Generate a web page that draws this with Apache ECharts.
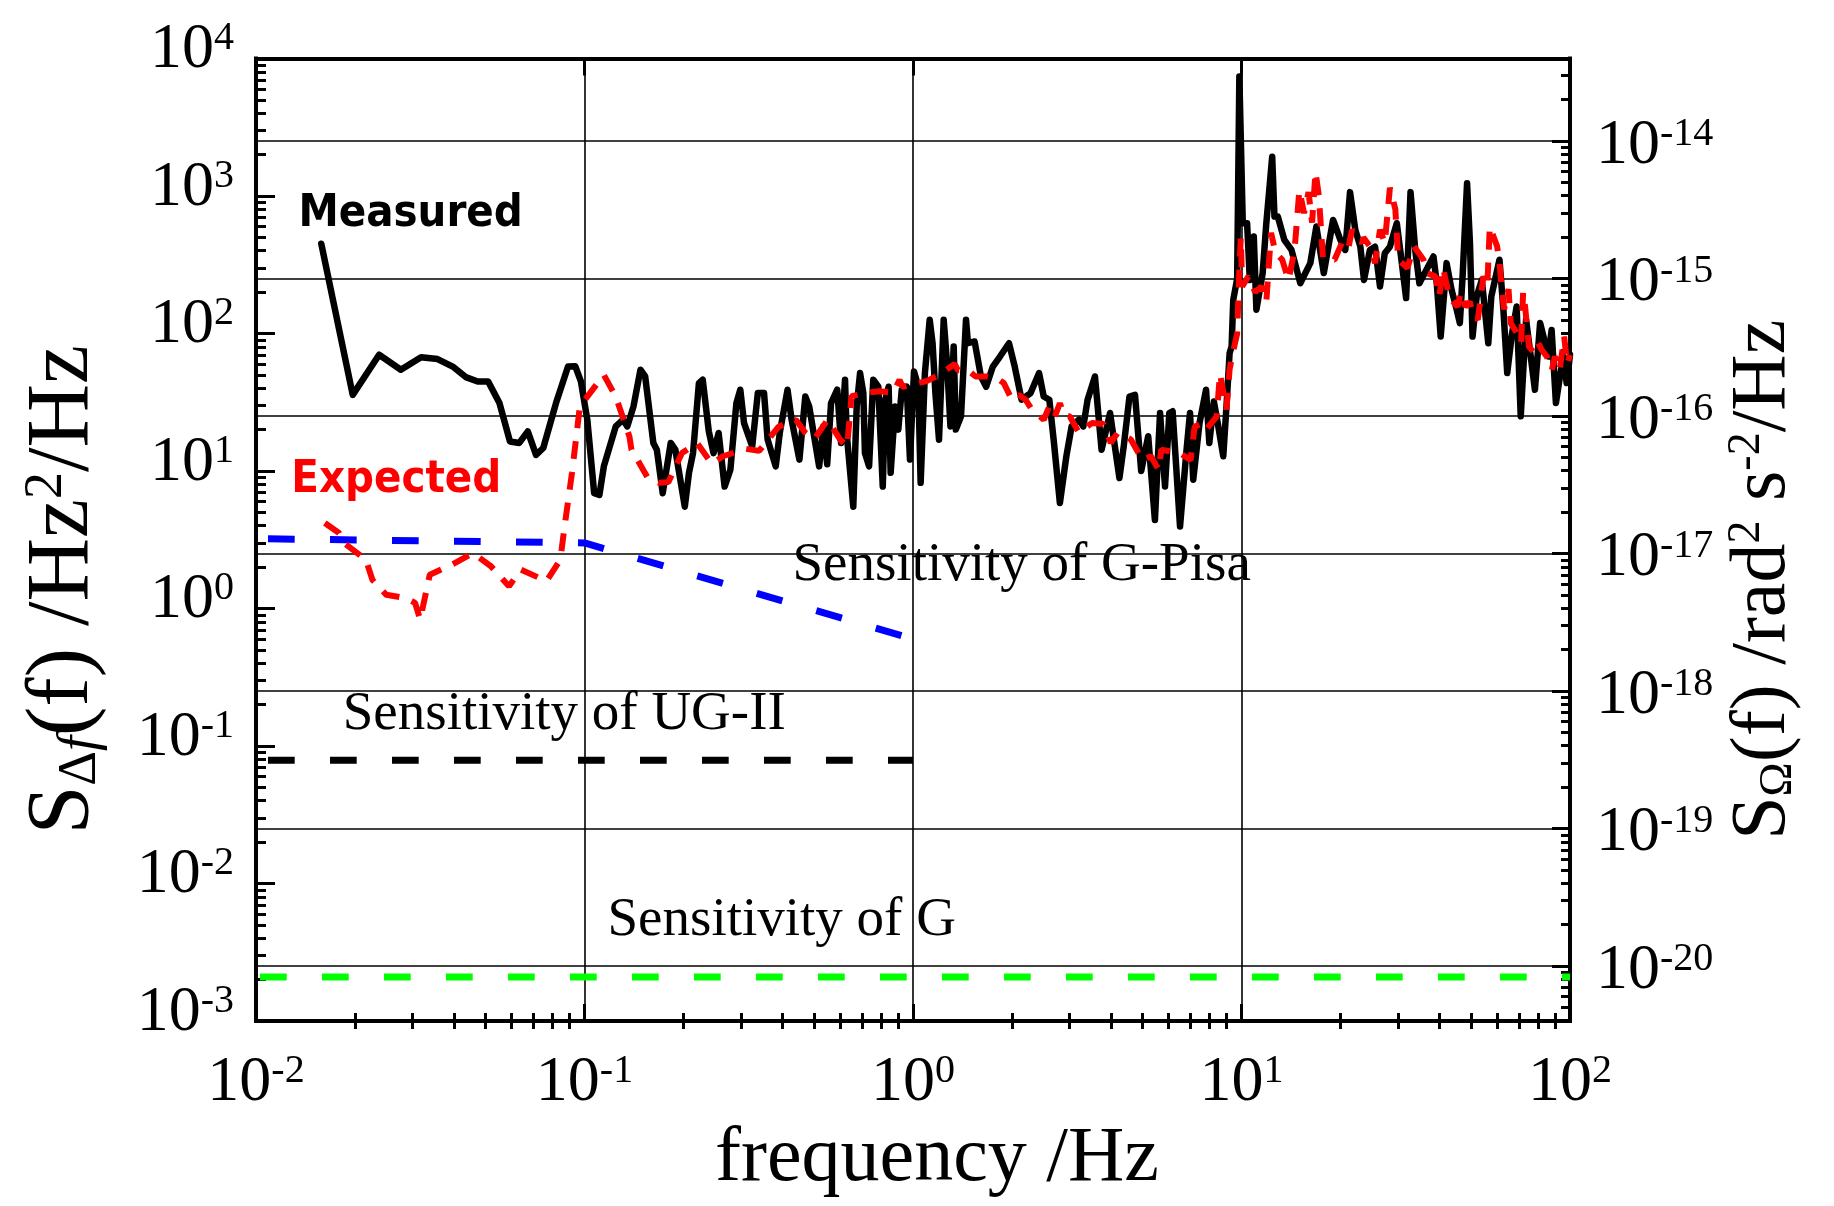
<!DOCTYPE html>
<html>
<head>
<meta charset="utf-8">
<script src="https://cdn.jsdelivr.net/npm/echarts@6/dist/echarts.min.js"></script>
<style>
  html, body { margin: 0; padding: 0; background: #ffffff; }
  #chart { width: 1834px; height: 1206px; }
</style>
</head>
<body>
<div id="chart"></div>
<script>
// Frequency-shift noise spectra: [frequency (Hz), S_Δf (Hz^2/Hz)]
const measured = [
  [0.0158, 450], [0.0197, 35.8], [0.0237, 70], [0.0276, 54.5], [0.0318, 67.3],
  [0.0357, 65.2], [0.0397, 57.5], [0.0435, 48.2], [0.0473, 44.8], [0.0509, 44.8],
  [0.0551, 31.2], [0.0593, 16.4], [0.0633, 16.0], [0.0672, 19.4], [0.0712, 13.1],
  [0.0749, 14.7], [0.0819, 31.2], [0.0891, 57.5], [0.0937, 57.9], [0.0975, 44.8],
  [0.102, 23.6], [0.107, 6.9], [0.111, 6.7], [0.1145, 10.8], [0.1245, 21.1],
  [0.131, 23.6], [0.135, 21.1], [0.141, 29.5], [0.148, 54.5], [0.153, 48.7],
  [0.162, 16], [0.166, 14.3], [0.173, 6.9], [0.183, 16], [0.189, 14.3],
  [0.202, 5.5], [0.208, 9.7], [0.214, 13.5], [0.223, 43.6], [0.229, 46.1],
  [0.239, 19.4], [0.247, 13.5], [0.256, 18.9], [0.267, 7.7], [0.278, 10.2],
  [0.29, 31.2], [0.298, 39], [0.306, 22.3], [0.324, 15.1], [0.337, 36.9],
  [0.352, 36.9], [0.361, 16.9], [0.382, 10.8], [0.393, 18.9], [0.415, 39],
  [0.427, 23.6], [0.451, 12.1], [0.47, 34.8], [0.483, 29.5], [0.518, 10.8],
  [0.533, 21.1], [0.548, 11.2], [0.563, 31.2], [0.588, 39], [0.604, 16],
  [0.621, 46.1], [0.628, 18.9], [0.658, 5.5], [0.674, 29.5], [0.69, 51.6],
  [0.706, 36.9], [0.714, 13.5], [0.735, 10.8], [0.757, 46.1], [0.784, 41],
  [0.809, 7.7], [0.823, 33], [0.843, 41], [0.855, 9.7], [0.882, 29.5],
  [0.902, 20], [0.924, 39], [0.957, 41], [0.979, 12.1], [1.007, 53],
  [1.038, 41], [1.055, 8.2], [1.087, 51.6], [1.124, 126], [1.147, 85],
  [1.17, 36.9], [1.2, 16.9], [1.24, 126], [1.27, 60], [1.3, 21.1],
  [1.33, 80.5], [1.35, 20], [1.4, 25], [1.45, 126], [1.47, 85],
  [1.54, 87.5], [1.61, 48.7], [1.67, 41], [1.75, 57.5], [1.84, 68],
  [1.96, 85], [2.04, 57.5], [2.14, 33], [2.28, 36.9], [2.42, 51.6],
  [2.5, 34.8], [2.6, 33], [2.68, 16.9], [2.8, 5.85], [2.93, 12.8],
  [3.04, 21.1], [3.2, 23.6], [3.3, 21.1], [3.4, 33], [3.58, 48.7],
  [3.75, 14.3], [3.98, 26.4], [4.25, 8.9], [4.38, 15.1], [4.56, 34.8],
  [4.74, 35.8], [4.95, 10], [5.2, 17.9], [5.45, 4.4], [5.65, 26.4],
  [5.85, 7.7], [6.03, 26.4], [6.17, 27.2], [6.5, 3.95], [6.79, 13.5],
  [6.97, 26.4], [7.13, 8.65], [7.45, 22.3], [7.8, 39], [7.98, 16],
  [8.24, 32], [8.5, 21.1], [8.8, 12.8], [9.0, 29.5], [9.2, 72],
  [9.33, 80.5], [9.44, 176], [9.7, 250], [9.85, 7400], [10.09, 634],
  [10.4, 634], [10.6, 245], [10.9, 507], [11.1, 149], [11.25, 149],
  [11.6, 275], [11.9, 634], [12.4, 1930], [12.6, 708], [12.9, 708],
  [13.5, 480], [14.2, 405], [15.1, 232], [16.2, 325], [16.9, 600],
  [17.8, 275], [19.0, 670], [20.0, 480], [20.7, 405], [21.4, 1067],
  [22.2, 568], [23.0, 428], [23.6, 245], [24.6, 405], [25.5, 428],
  [26.4, 220], [27.3, 384], [28.3, 428], [29.7, 634], [30.5, 384],
  [31.7, 181], [32.7, 1067], [33.8, 405], [34.8, 232], [37.0, 307],
  [38.4, 363], [39.3, 232], [40.4, 95], [42.1, 325], [43.6, 208],
  [45.2, 149], [46.2, 119], [47.1, 260], [48.6, 1240], [49.6, 454],
  [50.5, 95], [52.0, 186], [53.9, 245], [56.4, 85], [57.6, 186],
  [61.0, 344], [62.7, 149], [64.4, 51.6], [66.4, 95], [68.8, 157],
  [70.8, 25], [73.5, 126], [75.5, 76], [78.2, 39], [81.1, 119],
  [86.0, 68], [87.9, 106], [90.6, 31.2], [93.2, 48.7], [95.4, 68],
  [97.7, 43.6], [100, 70]
];

const expected = [
  [0.0162, 4.19], [0.0179, 3.54], [0.0185, 3.0], [0.0216, 2.27], [0.0226, 1.62],
  [0.0249, 1.26], [0.0286, 1.19], [0.0305, 1.1], [0.0316, 0.83], [0.0338, 1.76],
  [0.0394, 2.08], [0.0458, 2.53], [0.0519, 2.03], [0.0589, 1.45], [0.064, 1.92],
  [0.0766, 1.58], [0.0844, 2.26], [0.0867, 3.74], [0.0916, 9.7], [0.0968, 29.5],
  [0.1145, 50], [0.1245, 34.8], [0.137, 17.8], [0.139, 14.3], [0.157, 8.65],
  [0.169, 8.2], [0.18, 8.3], [0.198, 13.5], [0.22, 16], [0.244, 11.3],
  [0.264, 12.8], [0.31, 14.5], [0.34, 14], [0.39, 21], [0.44, 23.6],
  [0.47, 19], [0.5, 17], [0.55, 23.6], [0.6, 16.9], [0.63, 15],
  [0.65, 35], [0.72, 37], [0.79, 38], [0.87, 37], [0.91, 46],
  [0.93, 41], [1.1, 45], [1.2, 50], [1.34, 60], [1.37, 54],
  [1.47, 54], [1.55, 48.7], [1.67, 48.7], [1.83, 46], [1.89, 43.6],
  [2.0, 33], [2.1, 35.8], [2.2, 33], [2.3, 28], [2.5, 23.6],
  [2.6, 29.5], [2.7, 24.9], [2.8, 31], [2.9, 25], [3.0, 25],
  [3.2, 19], [3.5, 22.3], [3.8, 22], [4.0, 16], [4.2, 19],
  [4.6, 17], [5.0, 12], [5.3, 12.8], [5.6, 10.2], [5.7, 14.3],
  [6.5, 13.5], [7.0, 12], [7.2, 21], [7.6, 22.3], [7.8, 20],
  [8.4, 24.9], [8.6, 51], [9.0, 28], [9.2, 55], [9.5, 80],
  [9.7, 100], [9.85, 290], [9.95, 500], [10.05, 220], [10.5, 260],
  [11.0, 200], [11.5, 220], [11.9, 170], [12.3, 540], [12.7, 384],
  [13.3, 344], [13.9, 245], [14.5, 400], [15.0, 1100], [15.5, 750],
  [16.0, 1067], [16.4, 640], [16.8, 1500], [17.2, 1000], [17.7, 350],
  [19.2, 344], [20.4, 480], [21.2, 430], [21.7, 568], [23.3, 454],
  [23.5, 500], [24.6, 430], [25.5, 325], [26.4, 568], [27.3, 454],
  [28.3, 1150], [29.4, 800], [30.0, 344], [32.0, 300], [33.5, 430],
  [35.8, 344], [36.7, 275], [39.0, 260], [40.0, 186], [41.1, 300],
  [41.8, 245], [43.1, 180], [45.5, 157], [46.5, 200], [48.0, 157],
  [49.6, 170], [50.5, 140], [52.4, 126], [54.5, 260], [56.0, 220],
  [57.0, 600], [60.0, 430], [61.0, 325], [62.0, 210], [63.0, 150],
  [65.0, 210], [66.0, 119], [68.0, 106], [71.0, 85], [72.0, 200],
  [73.0, 157], [75.0, 80], [78.0, 72], [80.0, 85], [82.0, 76],
  [85.0, 68], [88.0, 54], [90.0, 68], [93.0, 54], [96.0, 95],
  [98.0, 60], [100, 70]
];

// Instrument sensitivity levels
const sensGPisa = [[0.01, 3.22], [0.1, 3.0], [1, 0.6]];
const sensUGII = [[0.01, 0.0789], [1, 0.0789]];
const sensG = [[0.01, 0.00209], [100, 0.00209]];

// Curve labels: text and anchor (left edge, vertical middle) in data units
const labelTexts = ['Measured', 'Expected', 'Sensitivity of G-Pisa', 'Sensitivity of UG-II', 'Sensitivity of G'];
const labelAnchors = [[0.01346, 735], [0.0128, 8.53], [0.4296, 2.04], [0.01837, 0.1695], [0.1175, 0.0054]];

// Axis tick positions
const freqDecades = [0.01, 0.1, 1, 10, 100];
const leftDecades = [1e-3, 1e-2, 1e-1, 1, 10, 100, 1000, 10000];
const rightDecades = [1e-20, 1e-19, 1e-18, 1e-17, 1e-16, 1e-15, 1e-14];

// Right axis: S_Ω = S_Δf * 10^OMEGA_SHIFT
const OMEGA_SHIFT = -17.4;
const LEFT_MIN = 1e-3, LEFT_MAX = 1e4;

function minorTicks(kLo, kHi, lo, hi) {
  const out = [];
  for (let k = kLo; k <= kHi; k++) {
    for (let m = 2; m <= 9; m++) {
      const v = m * Math.pow(10, k);
      if (v > lo && v < hi) out.push(v);
    }
  }
  return out;
}

const SERIF = '"Liberation Serif", "Times New Roman", serif';
const SANS = '"DejaVu Sans Condensed", "DejaVu Sans", sans-serif';

const rightMin = LEFT_MIN * Math.pow(10, OMEGA_SHIFT);
const rightMax = LEFT_MAX * Math.pow(10, OMEGA_SHIFT);

const freqMinor = minorTicks(-2, 1, 0.01, 100);
const leftMinor = minorTicks(-3, 3, LEFT_MIN, LEFT_MAX);
const rightMinor = minorTicks(-21, -14, rightMin, rightMax);

function powLabel(v) {
  const e = Math.round(Math.log10(v));
  return '{b|10}{s|' + e + '}';
}

const tickRich = {
  b: { fontFamily: SERIF, fontSize: 64, lineHeight: 64, color: '#000' },
  s: { fontFamily: SERIF, fontSize: 40, lineHeight: 10, verticalAlign: 'top', color: '#000' }
};

const FRAME_W = 4;
const tickStyle = { color: '#000', width: 3 };

function frameAxis(base, opts) {
  return Object.assign({
    axisLine: { show: true, onZero: false, lineStyle: { color: '#000', width: FRAME_W, cap: 'square' } },
    axisLabel: { show: false },
    splitLine: { show: false },
    minorTick: { show: false },
    minorSplitLine: { show: false }
  }, base, opts);
}

function tickOnlyAxis(base, values, len) {
  return Object.assign({}, base, {
    axisLine: { show: false },
    axisTick: { show: true, inside: true, length: len, lineStyle: tickStyle, customValues: values },
    axisLabel: { show: false },
    splitLine: { show: false }
  });
}

const xBase = { type: 'log', logBase: 10, min: 0.01, max: 100, gridIndex: 0 };
const yLeftBase = { type: 'log', logBase: 10, min: LEFT_MIN, max: LEFT_MAX, gridIndex: 0 };
const yRightBase = { type: 'log', logBase: 10, min: rightMin, max: rightMax, gridIndex: 0 };

const chart = echarts.init(document.getElementById('chart'), null, { renderer: 'canvas' });

const option = {
  animation: false,
  backgroundColor: '#ffffff',
  grid: { left: 256, right: 264, top: 58.5, bottom: 185, containLabel: false, outerBoundsMode: 'none' },
  xAxis: [
    frameAxis(xBase, {
      position: 'bottom',
      name: 'frequency /Hz',
      nameLocation: 'middle',
      nameGap: 100,
      nameTextStyle: { fontFamily: SERIF, fontSize: 78, color: '#000', lineHeight: 78, padding: [0, 0, 0, 48] },
      axisTick: { show: true, inside: true, length: 17, lineStyle: tickStyle, customValues: freqDecades },
      axisLabel: { show: true, customValues: freqDecades, formatter: powLabel, rich: tickRich, margin: 30 },
      splitLine: { show: true, lineStyle: { color: '#000', width: 1.6 } }
    }),
    tickOnlyAxis(Object.assign({ position: 'bottom' }, xBase), freqMinor, 8),
    frameAxis(xBase, {
      position: 'top',
      axisTick: { show: true, inside: true, length: 17, lineStyle: tickStyle, customValues: freqDecades }
    }),
    tickOnlyAxis(Object.assign({ position: 'top' }, xBase), freqMinor, 8)
  ],
  yAxis: [
    frameAxis(yLeftBase, {
      position: 'left',
      name: '{m|S}{sub|Δ}{subi|f}{m|(f) /Hz}{sup|2}{m|/Hz}',
      nameLocation: 'middle',
      nameGap: 148,
      nameTextStyle: {
        color: '#000',
        padding: [0, 100, 0, 0],
        rich: {
          m: { fontFamily: SERIF, fontSize: 88, lineHeight: 88, color: '#000' },
          sub: { fontFamily: SERIF, fontSize: 54, lineHeight: 26, verticalAlign: 'bottom', color: '#000' },
          subi: { fontFamily: SERIF, fontSize: 54, fontStyle: 'italic', lineHeight: 26, verticalAlign: 'bottom', color: '#000' },
          sup: { fontFamily: SERIF, fontSize: 54, lineHeight: 16, verticalAlign: 'top', color: '#000' }
        }
      },
      axisTick: { show: true, inside: true, length: 19, lineStyle: tickStyle, customValues: leftDecades },
      axisLabel: { show: true, customValues: leftDecades, formatter: powLabel, rich: tickRich, margin: 22, padding: [0, 0, 16, 0] }
    }),
    tickOnlyAxis(Object.assign({ position: 'left' }, yLeftBase), leftMinor, 10),
    frameAxis(yRightBase, {
      position: 'right',
      name: '{m|S}{sub|Ω}{m|(f) /rad}{sup|2}{m| s}{sup|-2}{m|/Hz}',
      nameLocation: 'middle',
      nameGap: 150,
      nameTextStyle: {
        color: '#000',
        padding: [0, 80, 0, 0],
        rich: {
          m: { fontFamily: SERIF, fontSize: 78, lineHeight: 78, color: '#000' },
          sub: { fontFamily: SERIF, fontSize: 46, lineHeight: 22, verticalAlign: 'bottom', color: '#000' },
          sup: { fontFamily: SERIF, fontSize: 46, lineHeight: 14, verticalAlign: 'top', color: '#000' }
        }
      },
      axisTick: { show: true, inside: true, length: 18, lineStyle: tickStyle, customValues: rightDecades },
      axisLabel: { show: true, customValues: rightDecades, formatter: powLabel, rich: tickRich, margin: 26, padding: [10, 0, 0, 0] },
      splitLine: { show: true, lineStyle: { color: '#000', width: 1.6 } }
    }),
    tickOnlyAxis(Object.assign({ position: 'right' }, yRightBase), rightMinor, 9)
  ],
  series: [
    {
      name: 'Sensitivity of G', type: 'line', data: sensG, symbol: 'none', z: 3,
      lineStyle: { color: '#00ff00', width: 7, type: [26.7, 35.3], dashOffset: 58 }
    },
    {
      name: 'Sensitivity of UG-II', type: 'line', data: sensUGII, symbol: 'none', z: 3,
      lineStyle: { color: '#000000', width: 7, type: [26.7, 35.3], dashOffset: 50 }
    },
    {
      name: 'Sensitivity of G-Pisa', type: 'line', data: sensGPisa, symbol: 'none', z: 3,
      lineStyle: { color: '#0000ff', width: 7, type: [26.7, 35.3], dashOffset: 50 }
    },
    {
      name: 'Measured', type: 'line', data: measured, symbol: 'none', z: 4,
      lineStyle: { color: '#000000', width: 6.5, join: 'round', cap: 'round' }
    },
    {
      name: 'Expected', type: 'line', data: expected, symbol: 'none', z: 5,
      lineStyle: { color: '#ff0000', width: 6, type: [18, 13] }
    },
    {
      name: 'labels', type: 'scatter', symbolSize: 0, z: 6, silent: true,
      itemStyle: { opacity: 1, color: '#000' },
      label: { show: true, color: '#000', opacity: 1 },
      data: labelAnchors.map(function (p, i) {
        const sans = i < 2;
        return {
          value: p,
          itemStyle: { opacity: 1 },
          label: {
            show: true, position: 'right', distance: 0, opacity: 1,
            formatter: labelTexts[i],
            fontFamily: sans ? SANS : SERIF,
            fontWeight: sans ? 'bold' : 'normal',
            fontSize: sans ? 45 : 55,
            color: i === 1 ? '#ff0000' : '#000000',
            textBorderWidth: 0
          }
        };
      })
    }
  ]
};

chart.setOption(option);
</script>
</body>
</html>
